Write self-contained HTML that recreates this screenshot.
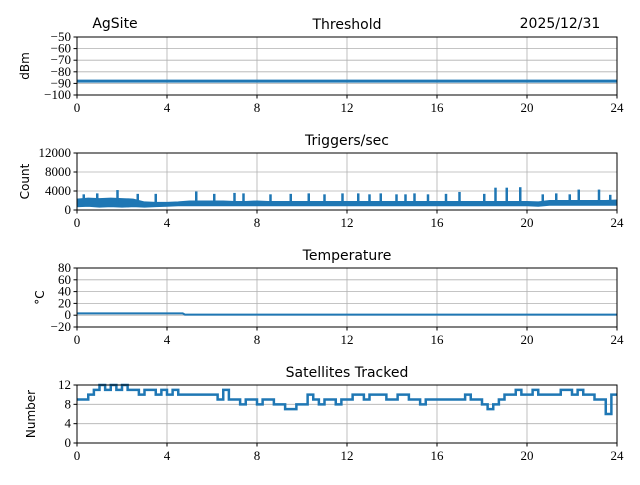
<!DOCTYPE html>
<html><head><meta charset="utf-8"><style>
body{margin:0;background:#fff}
</style></head><body>
<svg id="c" width="640" height="480" xmlns="http://www.w3.org/2000/svg" font-family="DejaVu Sans, Liberation Sans, sans-serif"></svg>
<script>
const xTicks=[0,4,8,12,16,20,24];
const thrTicks=[-50,-60,-70,-80,-90,-100];
const thrTimes=[0,24];
const thrValues=[-88,-88];
const trigTicks=[0,4000,8000,12000];
const trigTimes=[0,0.5,1,1.5,2,2.5,3,3.5,4,4.5,5,5.5,6,6.5,7,7.5,8,8.5,9,9.5,10,10.5,11,11.5,12,12.5,13,13.5,14,14.5,15,15.5,16,16.5,17,17.5,18,18.5,19,19.5,20,20.5,21,21.5,22,22.5,23,23.5,24];
const trigLow=[700,800,600,700,600,700,600,700,800,900,900,900,900,900,900,900,900,900,900,900,900,900,900,900,900,900,900,900,900,900,900,900,900,900,900,900,900,900,900,900,900,800,1000,1000,1000,1000,1000,1000,1000];
const trigHigh=[2300,2500,2400,2500,2400,2300,1700,1600,1600,1700,1900,1900,1900,1900,1800,1800,1900,1800,1800,1800,1800,1800,1800,1800,1800,1800,1800,1800,1800,1800,1800,1800,1800,1800,1800,1800,1800,1800,1800,1800,1800,1700,2000,2000,2000,2000,2000,2000,2100];
const spikeTimes=[0.3,0.9,1.8,2.7,3.5,5.3,6.1,7.0,7.4,8.6,9.5,10.3,11.0,11.8,12.5,13.0,13.5,14.2,14.6,15.0,15.6,16.4,17.0,18.1,18.6,19.1,19.7,20.7,21.3,21.9,22.3,23.2,23.7];
const spikeValues=[3300,3500,4200,3400,3400,3900,3400,3600,3500,3300,3400,3500,3300,3500,3500,3300,3500,3300,3300,3500,3300,3400,3800,3400,4700,4700,4800,3300,3500,3300,4300,4300,3200];
const tempTicks=[-20,0,20,40,60,80];
const tempTimes=[0,4.7,4.8,24];
const tempValues=[3,3,1,1];
const satTicks=[0,4,8,12];
const satValues=[9,9,10,11,12,11,12,11,12,11,11,10,11,11,10,11,10,11,10,10,10,10,10,10,10,9,11,9,9,8,9,9,8,9,9,8,8,7,7,8,8,10,9,8,9,9,8,9,9,10,10,9,10,10,10,9,9,10,10,9,9,8,9,9,9,9,9,9,9,10,9,9,8,7,8,9,10,10,11,10,10,11,10,10,10,10,11,11,10,11,10,10,9,9,6,10,10];
const NS='http://www.w3.org/2000/svg';
const svg=document.getElementById('c');
const X0=77,X1=617;
const SERIF='font-family:"Liberation Serif","DejaVu Serif",serif;font-size:13px';
const xs=t=>X0+(t/24)*(X1-X0);
function el(tag,a,parent){const e=document.createElementNS(NS,tag);for(const k in a)e.setAttribute(k,a[k]);(parent||svg).appendChild(e);return e;}
function panel(name,top,bot,ymin,ymax,yticks,ylabel,title){
  const g=el('g',{});
  
  
  const ys=v=>bot-(v-ymin)/(ymax-ymin)*(bot-top);
  xTicks.forEach(t=>{const l=el('line',{x1:xs(t),x2:xs(t),y1:top,y2:bot,stroke:'#b0b0b0','stroke-width':0.8},g);});
  yticks.forEach(v=>{const l=el('line',{x1:X0,x2:X1,y1:ys(v),y2:ys(v),stroke:'#b0b0b0','stroke-width':0.8},g);});
  xTicks.forEach(t=>{el('line',{x1:xs(t),x2:xs(t),y1:bot,y2:bot+3.5,stroke:'#000'},g);const tx=el('text',{x:xs(t),y:bot+17,'text-anchor':'middle',style:SERIF},g);tx.textContent=t;});
  yticks.forEach(v=>{el('line',{x1:X0-3.5,x2:X0,y1:ys(v),y2:ys(v),stroke:'#000'},g);const tx=el('text',{x:X0-6,y:ys(v)+4,'text-anchor':'end',style:SERIF},g);tx.textContent=v<0?'\u2212'+(-v):v;});
  const yl=el('text',{x:0,y:0,'text-anchor':'middle','font-size':12,transform:`translate(${X0-48+(ylabel==='°C'?15:0)+(ylabel==='Number'?6:0)},${(top+bot)/2}) rotate(-90)`},g);
  yl.textContent=ylabel;
  const tt=el('text',{x:(X0+X1)/2,y:top-8,'text-anchor':'middle','font-size':14},g);
  tt.textContent=title;
  return {g,ys,top,bot};
}
function frame(p){const r=el('rect',{x:X0,y:p.top,width:X1-X0,height:p.bot-p.top,fill:'none',stroke:'#000','stroke-width':1},p.g);}
const blue='#1f77b4';
let p=panel('threshold',37,95,-100,-50,thrTicks,'dBm','Threshold');
let d=thrTimes.map((t,i)=>(i?'L':'M')+xs(t)+','+p.ys(thrValues[i])).join('');
let ln=el('path',{d,stroke:blue,'stroke-width':3,fill:'none'},p.g);
frame(p);
let t1=el('text',{x:115,y:28,'text-anchor':'middle','font-size':14});t1.textContent='AgSite';
let t2=el('text',{x:560,y:28,'text-anchor':'middle','font-size':14});t2.textContent='2025/12/31';
p=panel('triggers',153,210,0,12000,trigTicks,'Count','Triggers/sec');
d=trigTimes.map((t,i)=>(i?'L':'M')+xs(t)+','+p.ys(trigHigh[i])).join('')+trigTimes.slice().reverse().map((t,j)=>{const i=trigTimes.length-1-j;return 'L'+xs(t)+','+p.ys(trigLow[i]);}).join('')+'Z';
ln=el('path',{d,fill:blue,stroke:blue,'stroke-width':1},p.g);
spikeTimes.forEach((t,i)=>{const s=el('line',{x1:xs(t),x2:xs(t),y1:p.ys(1500),y2:p.ys(spikeValues[i]),stroke:blue,'stroke-width':2.5},p.g);});
frame(p);
p=panel('temperature',268,327,-20,80,tempTicks,'°C','Temperature');
d=tempTimes.map((t,i)=>(i?'L':'M')+xs(t)+','+p.ys(tempValues[i])).join('');
ln=el('path',{d,stroke:blue,'stroke-width':2,fill:'none'},p.g);
frame(p);
p=panel('satellites',385,443,0,12,satTicks,'Number','Satellites Tracked');
const step=24/(satValues.length-1);
d='';satValues.forEach((v,i)=>{const x=xs(i*step),y=p.ys(v);d+=(i?'H'+x+'V'+y:'M'+x+','+y);});
ln=el('path',{d,stroke:blue,'stroke-width':2.5,fill:'none'},p.g);
frame(p);
</script>
</body></html>
